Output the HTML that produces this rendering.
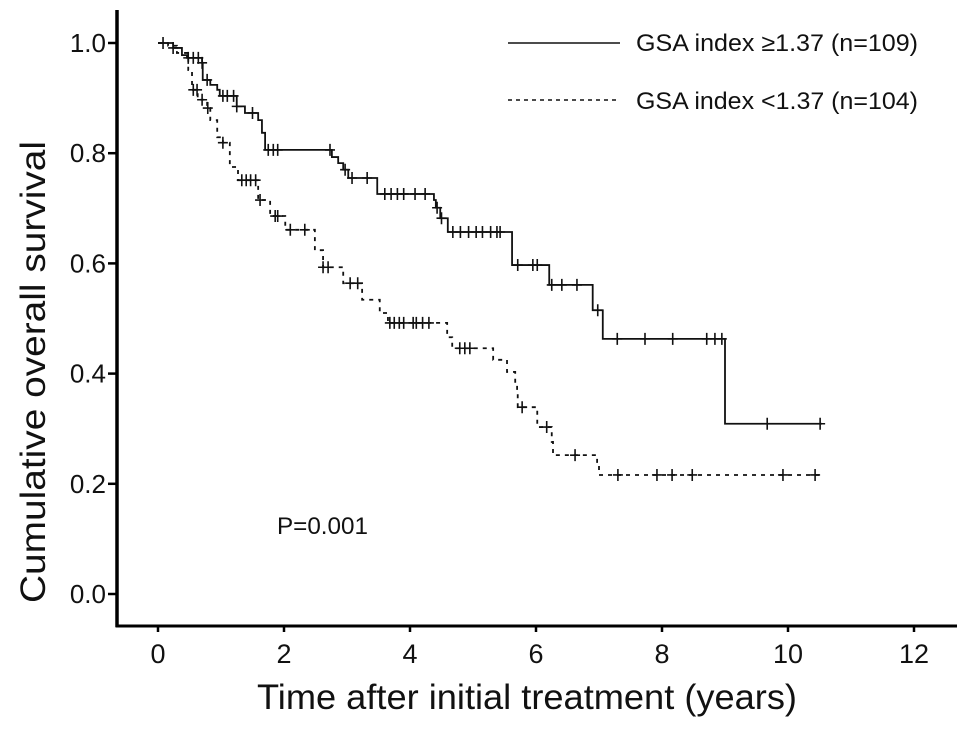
<!DOCTYPE html>
<html><head><meta charset="utf-8"><style>
html,body{margin:0;padding:0;background:#fff}
svg{display:block}
text{font-family:"Liberation Sans",Arial,sans-serif;fill:#111}
</style></head><body>
<svg id="chart" width="969" height="730" viewBox="0 0 969 730">
<g id="axes"></g>
<g id="series"></g>
<text x="527" y="709" font-size="35" text-anchor="middle" textLength="540" lengthAdjust="spacingAndGlyphs">Time after initial treatment (years)</text>
<text transform="translate(45,372) rotate(-90)" font-size="35" text-anchor="middle" textLength="462" lengthAdjust="spacingAndGlyphs">Cumulative overall survival</text>
<text x="277" y="534" font-size="24" textLength="91" lengthAdjust="spacingAndGlyphs">P=0.001</text>
<g>
<line x1="508" y1="43" x2="620" y2="43" stroke="#111" stroke-width="1.6"/>
<text x="636" y="51" font-size="24" textLength="282" lengthAdjust="spacingAndGlyphs">GSA index ≥1.37 (n=109)</text>
<line x1="508" y1="100" x2="620" y2="100" stroke="#111" stroke-width="1.6" stroke-dasharray="4,4"/>
<text x="636" y="109" font-size="24" textLength="282" lengthAdjust="spacingAndGlyphs">GSA index &lt;1.37 (n=104)</text>
</g>
</svg>
<script>
const xTicks=[0,2,4,6,8,10,12];
const yTicks=[0.0,0.2,0.4,0.6,0.8,1.0];
const highTimes=[0,0.24,0.38,0.46,0.70,0.71,0.83,0.94,0.98,1.25,1.38,1.59,1.65,1.70,2.76,2.86,2.94,3.02,3.48,4.38,4.41,4.48,4.60,5.62,6.21,6.90,7.06,9.00];
const highSurv=[1.0,0.991,0.978,0.973,0.964,0.933,0.924,0.915,0.904,0.885,0.873,0.860,0.837,0.806,0.793,0.782,0.770,0.755,0.726,0.715,0.701,0.682,0.657,0.597,0.561,0.515,0.463,0.309];
const highEnd=10.54;
const highCensor=[0.08,0.24,0.48,0.56,0.64,0.70,0.78,1.03,1.1,1.2,1.25,1.5,1.75,1.83,1.9,2.73,2.97,3.08,3.32,3.6,3.7,3.8,3.9,4.08,4.24,4.43,4.5,4.68,4.8,4.93,5.05,5.15,5.28,5.38,5.43,5.71,5.95,6.02,6.25,6.41,6.65,6.98,7.29,7.73,8.17,8.71,8.84,8.95,9.67,10.51];
const lowTimes=[0,0.16,0.30,0.48,0.54,0.63,0.78,0.83,0.94,1.03,1.14,1.27,1.59,1.78,2.02,2.49,2.62,2.94,3.24,3.52,3.65,4.59,4.67,5.32,5.54,5.67,5.70,5.71,6.02,6.25,6.27,6.97,7.0];
const lowSurv=[1.0,0.995,0.982,0.951,0.915,0.897,0.882,0.860,0.829,0.819,0.775,0.751,0.715,0.686,0.661,0.624,0.593,0.564,0.534,0.510,0.492,0.466,0.446,0.425,0.403,0.385,0.367,0.339,0.303,0.276,0.252,0.234,0.216];
const lowEnd=10.54;
const lowCensor=[0.56,0.62,0.7,0.79,1.03,1.33,1.4,1.47,1.55,1.62,1.86,1.9,2.1,2.33,2.62,2.7,3.05,3.17,3.68,3.75,3.83,3.9,4.05,4.1,4.2,4.3,4.79,4.87,4.95,5.78,6.17,6.62,7.3,7.92,8.16,8.48,9.92,10.43];

const NS='http://www.w3.org/2000/svg';
const X=t=>158+t*63;
const Y=s=>594-s*551;
function mk(tag,attrs,parent){const e=document.createElementNS(NS,tag);for(const k in attrs)e.setAttribute(k,attrs[k]);parent.appendChild(e);return e;}
const axes=document.getElementById('axes');
const series=document.getElementById('series');
let e=mk('line',{x1:117,y1:10,x2:117,y2:627,stroke:'#000','stroke-width':3.5},axes);


e=mk('line',{x1:115.5,y1:626,x2:957,y2:626,stroke:'#000','stroke-width':3},axes);


xTicks.forEach(v=>{
  let t=mk('line',{x1:X(v),y1:626,x2:X(v),y2:632,stroke:'#000','stroke-width':2.5},axes);
  
  
  let l=mk('text',{x:X(v),y:663,'font-size':27,'text-anchor':'middle'},axes);l.textContent=String(v);
  
  
});
yTicks.forEach(v=>{
  let t=mk('line',{x1:108,y1:Y(v),x2:117,y2:Y(v),stroke:'#000','stroke-width':2.5},axes);
  
  
  let l=mk('text',{x:106,y:Y(v)+9,'font-size':26,'text-anchor':'end'},axes);l.textContent=v.toFixed(1);
  
  
});
function stepPath(ts,ss,end){let d='M'+X(ts[0])+','+Y(ss[0]);for(let i=1;i<ts.length;i++){d+=' H'+X(ts[i])+' V'+Y(ss[i]);}d+=' H'+X(end);return d;}
function survAt(ts,ss,t){let s=ss[0];for(let i=0;i<ts.length;i++){if(ts[i]<=t)s=ss[i];}return s;}
function draw(ts,ss,end,cens,dash,name){
  const g=mk('g',{},series);
  
  
  const p=mk('path',{d:stepPath(ts,ss,end),fill:'none',stroke:'#111','stroke-width':1.8},g);
  if(dash)p.setAttribute('stroke-dasharray','4,5');
  
  
  cens.forEach(c=>{
    const cx=X(c),cy=Y(survAt(ts,ss,c));
    const m=mk('path',{d:'M'+(cx-5)+','+cy+' H'+(cx+5)+' M'+cx+','+(cy-6)+' V'+(cy+6),stroke:'#111','stroke-width':1.6,fill:'none'},g);
    
    
  });
}
draw(highTimes,highSurv,highEnd,highCensor,false,'series-high-gsa');
draw(lowTimes,lowSurv,lowEnd,lowCensor,true,'series-low-gsa');
</script>
</body></html>
